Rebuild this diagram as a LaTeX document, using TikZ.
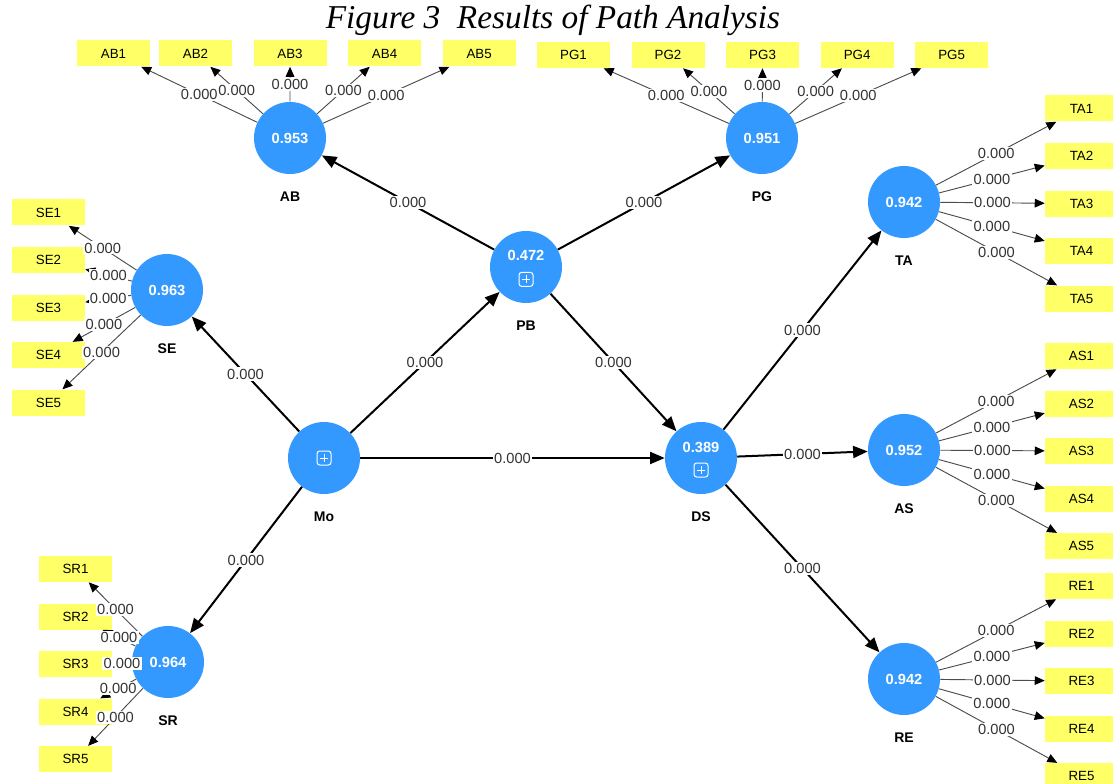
\documentclass[tikz,border=0pt]{standalone}
\usepackage{fontspec}
\setmainfont{Liberation Sans}
\newfontfamily\figfont{Liberation Serif}
\usetikzlibrary{positioning,arrows.meta}

\definecolor{lvblue}{RGB}{51,153,255}
\definecolor{mvyellow}{RGB}{255,255,102}

\tikzset{
  lv/.style={circle,fill=lvblue,minimum size=54pt,inner sep=0pt,text=white,
    font=\bfseries\fontsize{11}{13}\selectfont},
  lvname/.style={inner sep=0pt,yshift=-13pt,text=black,font=\bfseries\fontsize{10.5}{12}\selectfont},
  lvval/.style={inner sep=0pt,text=white,font=\bfseries\fontsize{11}{13}\selectfont},
  mv/.style={fill=mvyellow,minimum width=54.75pt,minimum height=19.5pt,inner sep=0pt,
    font=\fontsize{10}{12}\selectfont},
  loading/.style={draw=black!70,line width=0.7pt,-{Triangle[length=7.5pt,width=6.5pt,black]}},
  struct/.style={draw=black,line width=1.5pt,-{Triangle[length=11pt,width=9pt]}},
  coef/.style={fill=white,inner sep=1pt,text=black!80,font=\fontsize{11}{12}\selectfont},
  plusicon/.pic={
    \draw[white,line width=0.75pt,rounded corners=2pt] (-7,-7) rectangle (7,7);
    \draw[white,line width=0.75pt] (-4,0) -- (4,0) (0,-4) -- (0,4);
  }
}

\begin{document}
\begin{tikzpicture}[x=0.75pt,y=-0.75pt,node distance=15.75pt]
\useasboundingbox (0,0) rectangle (1113,784);

\node[font=\figfont\itshape\fontsize{25}{27}\selectfont] (title) at (553,20) {Figure 3\ \ Results of Path Analysis};

% latent variables
\node[lv,label={[lvname]below:AB}] (AB) at (290,138) {0.953};
\node[lv,label={[lvname]below:PG}] (PG) at (762,138) {0.951};
\node[lv,label={[lvname]below:PB}] (PB) at (526,267) {};
\node[lv,label={[lvname]below:SE}] (SE) at (167,290) {0.963};
\node[lv,label={[lvname]below:Mo}] (Mo) at (324,458) {};
\node[lv,label={[lvname]below:SR}] (SR) at (168,662) {0.964};
\node[lv,label={[lvname]below:DS}] (DS) at (701,458) {};
\node[lv,label={[lvname]below:TA}] (TA) at (904,202) {0.942};
\node[lv,label={[lvname]below:AS}] (AS) at (904,450) {0.952};
\node[lv,label={[lvname]below:RE}] (RE) at (904,679) {0.942};

\node[lvval] at ([yshift=8.5pt]PB.center) {0.472};
\pic at ([yshift=-9.25pt]PB.center) {plusicon};
\node[lvval] at ([yshift=8.25pt]DS.center) {0.389};
\pic at ([yshift=-9pt]DS.center) {plusicon};
\pic at (Mo.center) {plusicon};

% indicators
\node[mv] (AB1) at (113.5,53.5) {AB1};
\node[mv] (AB2) at (195.5,53.5) {AB2};
\node[mv] (AB3) [right=of AB2] {AB3};
\node[mv] (AB4) [right=of AB3] {AB4};
\node[mv] (AB5) [right=of AB4] {AB5};

\node[mv] (PG1) at (573.5,55) {PG1};
\node[mv] (PG2) [right=of PG1] {PG2};
\node[mv] (PG3) [right=of PG2] {PG3};
\node[mv] (PG4) [right=of PG3] {PG4};
\node[mv] (PG5) [right=of PG4] {PG5};

\node[mv] (SE1) at (48.5,212.5) {SE1};
\node[mv] (SE2) [below=of SE1] {SE2};
\node[mv] (SE3) [below=of SE2] {SE3};
\node[mv] (SE4) [below=of SE3] {SE4};
\node[mv] (SE5) [below=of SE4] {SE5};

\node[mv] (SR1) at (75.5,569) {SR1};
\node[mv] (SR2) [below=of SR1] {SR2};
\node[mv] (SR3) [below=of SR2] {SR3};
\node[mv] (SR4) [below=of SR3] {SR4};
\node[mv] (SR5) [below=of SR4] {SR5};

\node[mv] (TA1) at (1081.5,108.5) {TA1};
\node[mv] (TA2) [below=of TA1] {TA2};
\node[mv] (TA3) [below=of TA2] {TA3};
\node[mv] (TA4) [below=of TA3] {TA4};
\node[mv] (TA5) [below=of TA4] {TA5};

\node[mv] (AS1) at (1081.5,356) {AS1};
\node[mv] (AS2) [below=of AS1] {AS2};
\node[mv] (AS3) [below=of AS2] {AS3};
\node[mv] (AS4) [below=of AS3] {AS4};
\node[mv] (AS5) [below=of AS4] {AS5};

\node[mv] (RE1) at (1081.5,586) {RE1};
\node[mv] (RE2) [below=of RE1] {RE2};
\node[mv] (RE3) [below=of RE2] {RE3};
\node[mv] (RE4) [below=of RE3] {RE4};
\node[mv] (RE5) [below=of RE4] {RE5};

% outer loadings
\path[loading] (AB) edge node[coef]{0.000} (AB1)
                    edge node[coef]{0.000} (AB2)
                    edge node[coef]{0.000} (AB3)
                    edge node[coef]{0.000} (AB4)
                    edge node[coef]{0.000} (AB5)
               (PG) edge node[coef]{0.000} (PG1)
                    edge node[coef]{0.000} (PG2)
                    edge node[coef]{0.000} (PG3)
                    edge node[coef]{0.000} (PG4)
                    edge node[coef]{0.000} (PG5)
               (SE) edge node[coef]{0.000} (SE1)
                    edge node[coef]{0.000} (SE2)
                    edge node[coef]{0.000} (SE3)
                    edge node[coef]{0.000} (SE4)
                    edge node[coef]{0.000} (SE5)
               (SR) edge node[coef]{0.000} (SR1)
                    edge node[coef]{0.000} (SR2)
                    edge node[coef]{0.000} (SR3)
                    edge node[coef]{0.000} (SR4)
                    edge node[coef]{0.000} (SR5)
               (TA) edge node[coef]{0.000} (TA1)
                    edge node[coef]{0.000} (TA2)
                    edge node[coef]{0.000} (TA3)
                    edge node[coef]{0.000} (TA4)
                    edge node[coef]{0.000} (TA5)
               (AS) edge node[coef]{0.000} (AS1)
                    edge node[coef]{0.000} (AS2)
                    edge node[coef]{0.000} (AS3)
                    edge node[coef]{0.000} (AS4)
                    edge node[coef]{0.000} (AS5)
               (RE) edge node[coef]{0.000} (RE1)
                    edge node[coef]{0.000} (RE2)
                    edge node[coef]{0.000} (RE3)
                    edge node[coef]{0.000} (RE4)
                    edge node[coef]{0.000} (RE5);

% path coefficients
\path[struct] (PB) edge node[coef]{0.000} (AB)
                   edge node[coef]{0.000} (PG)
                   edge node[coef]{0.000} (DS)
              (Mo) edge node[coef]{0.000} (SE)
                   edge node[coef]{0.000} (PB)
                   edge node[coef]{0.000} (DS)
                   edge node[coef]{0.000} (SR)
              (DS) edge node[coef]{0.000} (TA)
                   edge node[coef]{0.000} (AS)
                   edge node[coef]{0.000} (RE);
\end{tikzpicture}
\end{document}
